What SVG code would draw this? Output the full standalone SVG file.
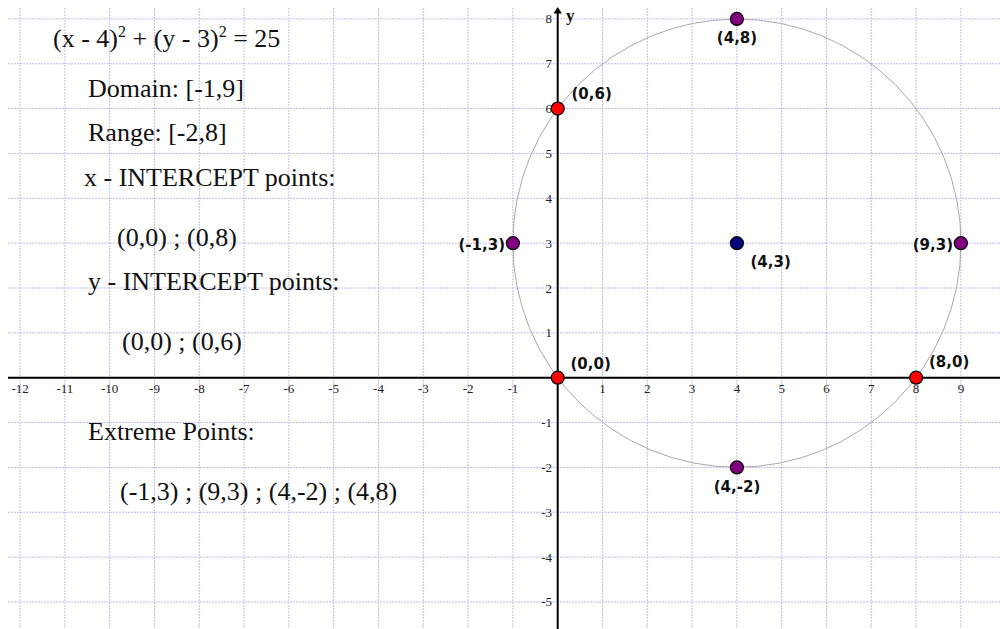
<svg xmlns="http://www.w3.org/2000/svg" width="1000" height="629" viewBox="0 0 1000 629">
<style>
.g{stroke:#bfbfe8;stroke-width:1;stroke-dasharray:2 1;fill:none}
.ax{stroke:#000;stroke-width:2;fill:none}
.tx{font-family:"Liberation Serif","Times New Roman",serif;font-size:13px;fill:#222;text-anchor:middle}
.ty{font-family:"Liberation Serif","Times New Roman",serif;font-size:13px;fill:#222;text-anchor:end}
.t{font-family:"Liberation Serif","Times New Roman",serif;font-size:26px;fill:#111}
.pl{font-family:"DejaVu Sans",Verdana,sans-serif;font-weight:bold;font-size:15px;fill:#111}
.pt{stroke:#000;stroke-width:1.2}
</style>
<rect width="1000" height="629" fill="#fff"/>
<g id="grid">
<path class="g" d="M20.1 8V629M64.9 8V629M109.7 8V629M154.5 8V629M199.3 8V629M244.1 8V629M288.9 8V629M333.7 8V629M378.5 8V629M423.3 8V629M468.1 8V629M512.9 8V629M602.5 8V629M647.3 8V629M692.1 8V629M736.9 8V629M781.7 8V629M826.5 8V629M871.3 8V629M916.1 8V629M960.9 8V629"/>
<path class="g" d="M8 18.9H1000M8 63.75H1000M8 108.6H1000M8 153.45H1000M8 198.3H1000M8 243.15H1000M8 288H1000M8 332.85H1000M8 422.55H1000M8 467.4H1000M8 512.25H1000M8 557.1H1000M8 601.95H1000"/>
</g>
<g id="connectors">
<path class="ax" d="M8 377.7H1000"/>
<path class="ax" d="M557.7 12V629"/>
<path d="M557.7 7L553.5 13.5H561.9Z" fill="#000"/>
</g>
<g id="ticks">
<text class="tx" x="20.1" y="393">-12</text>
<text class="tx" x="64.9" y="393">-11</text>
<text class="tx" x="109.7" y="393">-10</text>
<text class="tx" x="154.5" y="393">-9</text>
<text class="tx" x="199.3" y="393">-8</text>
<text class="tx" x="244.1" y="393">-7</text>
<text class="tx" x="288.9" y="393">-6</text>
<text class="tx" x="333.7" y="393">-5</text>
<text class="tx" x="378.5" y="393">-4</text>
<text class="tx" x="423.3" y="393">-3</text>
<text class="tx" x="468.1" y="393">-2</text>
<text class="tx" x="512.9" y="393">-1</text>
<text class="tx" x="602.5" y="393">1</text>
<text class="tx" x="647.3" y="393">2</text>
<text class="tx" x="692.1" y="393">3</text>
<text class="tx" x="736.9" y="393">4</text>
<text class="tx" x="781.7" y="393">5</text>
<text class="tx" x="826.5" y="393">6</text>
<text class="tx" x="871.3" y="393">7</text>
<text class="tx" x="916.1" y="393">8</text>
<text class="tx" x="960.9" y="393">9</text>
<text class="ty" x="552" y="23.4">8</text>
<text class="ty" x="552" y="68.2">7</text>
<text class="ty" x="552" y="113.1">6</text>
<text class="ty" x="552" y="157.9">5</text>
<text class="ty" x="552" y="202.8">4</text>
<text class="ty" x="552" y="247.6">3</text>
<text class="ty" x="552" y="292.5">2</text>
<text class="ty" x="552" y="337.3">1</text>
<text class="ty" x="552" y="427">-1</text>
<text class="ty" x="552" y="471.9">-2</text>
<text class="ty" x="552" y="516.7">-3</text>
<text class="ty" x="552" y="561.6">-4</text>
<text class="ty" x="552" y="606.4">-5</text>
<text x="566" y="21" font-family="'Liberation Serif','Times New Roman',serif" font-weight="bold" font-size="17" fill="#111">y</text>
</g>
<g id="curve">
<circle cx="736.9" cy="243.15" r="224.1" fill="none" stroke="#a8a8a8" stroke-width="1"/>
</g>
<g id="p06"><circle class="pt" cx="557.7" cy="108.6" r="6.5" fill="#ff0000"/><text class="pl" x="571.5" y="99">(0,6)</text></g>
<g id="p48"><circle class="pt" cx="736.9" cy="18.9" r="6.5" fill="#800080"/><text class="pl" x="737" y="42.5" text-anchor="middle">(4,8)</text></g>
<g id="pm13"><circle class="pt" cx="512.9" cy="243.15" r="6.5" fill="#800080"/><text class="pl" x="505" y="249.5" text-anchor="end">(-1,3)</text></g>
<g id="p93"><circle class="pt" cx="960.9" cy="243.15" r="6.5" fill="#800080"/><text class="pl" x="953" y="249.5" text-anchor="end">(9,3)</text></g>
<g id="p43"><circle class="pt" cx="736.9" cy="243.15" r="6.5" fill="#000080"/><text class="pl" x="750.5" y="267">(4,3)</text></g>
<g id="p00"><circle class="pt" cx="557.7" cy="377.7" r="6.5" fill="#ff0000"/><text class="pl" x="570.5" y="368.5">(0,0)</text></g>
<g id="p80"><circle class="pt" cx="916.1" cy="377.7" r="6.5" fill="#ff0000"/><text class="pl" x="929" y="367">(8,0)</text></g>
<g id="p4m2"><circle class="pt" cx="736.9" cy="467.4" r="6.5" fill="#800080"/><text class="pl" x="737" y="492" text-anchor="middle">(4,-2)</text></g>
<g id="info">
<text class="t" x="53" y="47">(x - 4)<tspan font-size="16" dy="-10">2</tspan><tspan dy="10"> + (y - 3)</tspan><tspan font-size="16" dy="-10">2</tspan><tspan dy="10"> = 25</tspan></text>
<text class="t" x="88" y="97">Domain: [-1,9]</text>
<text class="t" x="88" y="141">Range: [-2,8]</text>
<text class="t" x="84" y="186">x - INTERCEPT points:</text>
<text class="t" x="117" y="246">(0,0) ; (0,8)</text>
<text class="t" x="88" y="290">y - INTERCEPT points:</text>
<text class="t" x="122" y="350">(0,0) ; (0,6)</text>
<text class="t" x="88" y="440">Extreme Points:</text>
<text class="t" x="120" y="500">(-1,3) ; (9,3) ; (4,-2) ; (4,8)</text>
</g>
</svg>
